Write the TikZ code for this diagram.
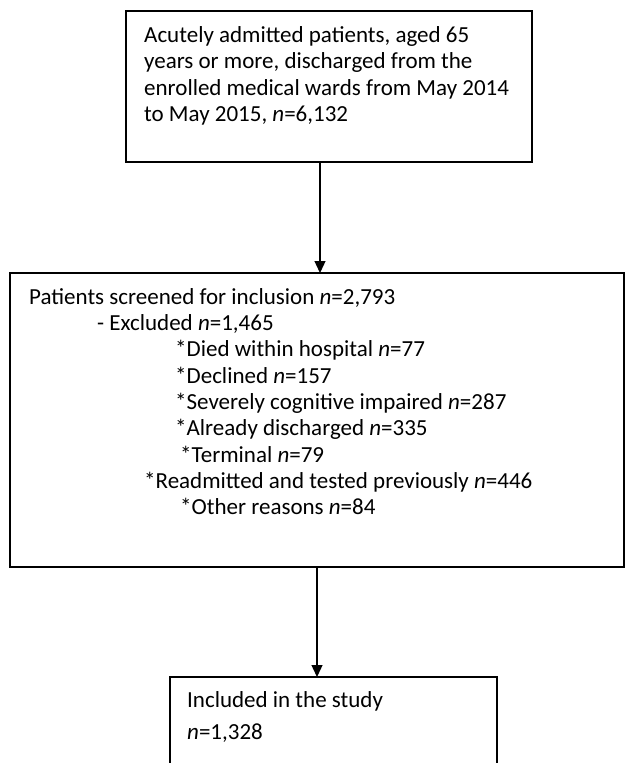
\documentclass[tikz,border=0pt]{standalone}
\usepackage{fontspec}
\setmainfont{Carlito}
\usetikzlibrary{arrows.meta}
\tikzset{
  box/.style={draw=black, line width=1.6pt, rectangle, inner sep=0pt, outer sep=0pt},
  txt/.style={anchor=base west, inner sep=0pt, font=\fontsize{23}{27}\selectfont},
  arr/.style={line width=1.3pt, -{Triangle[length=12pt,width=11pt]}}
}
\begin{document}
\begin{tikzpicture}[x=1pt,y=-1pt]
\useasboundingbox (0,0) rectangle (625,763);
% boxes
\node[box, minimum width=406pt, minimum height=151pt] (box1) at (329,86.5) {};
\node[box, minimum width=614pt, minimum height=294pt] (box2) at (317,420) {};
\node[box, minimum width=327pt, minimum height=110pt] (box3) at (333.5,732) {};
% box 1 text
\node[txt] (t11) at (144,42) {Acutely admitted patients, aged 65};
\node[txt] (t12) at (144,68.5) {years or more, discharged from the};
\node[txt] (t13) at (144,95) {enrolled medical wards from May 2014};
\node[txt] (t14) at (144,121.5) {to May 2015, \textit{n}=6,132};
% box 2 text
\node[txt] (t21) at (29,304) {Patients screened for inclusion \textit{n}=2,793};
\node[txt] (t22) at (97,330.3) {- Excluded \textit{n}=1,465};
\node[txt] (t23) at (175,356.6) {*Died within hospital \textit{n}=77};
\node[txt] (t24) at (175,383) {*Declined \textit{n}=157};
\node[txt] (t25) at (175,409) {*Severely cognitive impaired \textit{n}=287};
\node[txt] (t26) at (175,435.5) {*Already discharged \textit{n}=335};
\node[txt] (t27) at (180,462) {*Terminal \textit{n}=79};
\node[txt] (t28) at (144,488) {*Readmitted and tested previously \textit{n}=446};
\node[txt] (t29) at (180,514) {*Other reasons \textit{n}=84};
% box 3 text
\node[txt] (t31) at (187,707) {Included in the study};
\node[txt] (t32) at (187,739) {\textit{n}=1,328};
% connectors
\coordinate (ax1) at (320,0);
\coordinate (ax2) at (317,0);
\draw[arr] (box1.south -| ax1) -- (box2.north -| ax1);
\draw[arr] (box2.south -| ax2) -- (box3.north -| ax2);
\end{tikzpicture}
\end{document}
